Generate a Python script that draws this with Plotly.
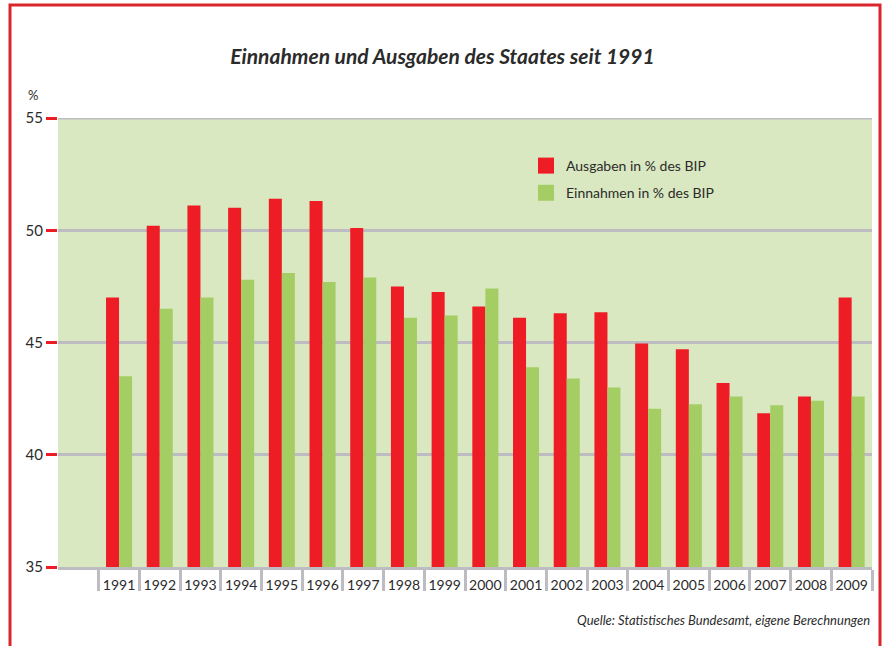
import plotly.graph_objects as go

# data (% of GDP)
years = list(range(1991, 2010))
ausgaben = [47.0, 50.2, 51.1, 51.0, 51.4, 51.3, 50.1, 47.5, 47.25, 46.6,
            46.1, 46.3, 46.35, 44.95, 44.7, 43.2, 41.85, 42.6, 47.0]
einnahmen = [43.5, 46.5, 47.0, 47.8, 48.1, 47.7, 47.9, 46.1, 46.2, 47.4,
             43.9, 43.4, 43.0, 42.05, 42.25, 42.6, 42.2, 42.4, 42.6]

RED = "#ee1c25"
GREEN = "#a4ce64"
BG = "#d9e8c0"
GRAY = "#bcbcc2"
TXT = "#2b2b2b"
FONT = "Lato"

fig = go.Figure()
fig.add_trace(go.Bar(x=years, y=ausgaben, name="Ausgaben in % des BIP",
                     marker=dict(color=RED, line=dict(width=0)), showlegend=False))
fig.add_trace(go.Bar(x=years, y=einnahmen, name="Einnahmen in % des BIP",
                     marker=dict(color=GREEN, line=dict(width=0)), showlegend=False))

# legend entries with bigger square swatches
for name, col in [("Ausgaben in % des BIP", RED), ("Einnahmen in % des BIP", GREEN)]:
    fig.add_trace(go.Scatter(x=[None], y=[None], mode="markers", name=name,
                             legendgroup=name,
                             marker=dict(symbol="square", size=18, color=col)))

# separators between the year labels
seps = [yr - 0.5 for yr in years] + [years[-1] + 0.5]

fig.update_layout(
    width=885, height=646,
    margin=dict(l=58, r=13, t=118, b=79),
    paper_bgcolor="white",
    plot_bgcolor=BG,
    barmode="group",
    bargap=0.36,
    bargroupgap=0,
    font=dict(family=FONT, color=TXT, size=13),
    title=dict(text="<b><i>Einnahmen und Ausgaben des Staates seit 1991</i></b>",
               x=0.5, xref="container", xanchor="center",
               y=1 - 57 / 646, yref="container", yanchor="middle",
               font=dict(family=FONT, size=21, color=TXT)),
    legend=dict(x=(526 - 58) / 814, y=(567 - 150) / 449, xanchor="left", yanchor="top",
                bgcolor="rgba(0,0,0,0)", font=dict(size=14, color=TXT),
                itemsizing="trace", tracegroupgap=6),
    showlegend=True,
)

fig.update_xaxes(
    range=[years[0] - 1.5, years[-1] + 0.5],
    tickmode="array", tickvals=years, ticktext=[str(y) for y in years],
    ticks="", showgrid=False, zeroline=False,
    showline=True, linecolor=GRAY, linewidth=3,
    tickfont=dict(size=14, color=TXT),
    ticklabelstandoff=3,
    minor=dict(tickmode="array", tickvals=seps, ticks="outside",
               ticklen=21, tickwidth=3, tickcolor=GRAY, showgrid=False),
)

fig.update_yaxes(
    range=[35, 55],
    tickmode="array", tickvals=[35, 40, 45, 50, 55],
    ticks="outside", ticklen=11, tickwidth=3, tickcolor=RED,
    showgrid=True, gridcolor=GRAY, gridwidth=3,
    zeroline=False, showline=False,
    tickfont=dict(size=15, color=TXT),
)

# top grid line at 55
fig.add_shape(type="line", xref="paper", yref="y", x0=0, x1=1, y0=55, y1=55,
              line=dict(color=GRAY, width=3), layer="below")

fig.add_annotation(text="%", x=(33 - 58) / 814, y=(567 - 95) / 449,
                   xref="paper", yref="paper", showarrow=False,
                   xanchor="center", yanchor="middle",
                   font=dict(size=13, color=TXT))
fig.add_annotation(text="<i>Quelle: Statistisches Bundesamt, eigene Berechnungen</i>",
                   x=1, y=(567 - 620) / 449, xref="paper", yref="paper",
                   xanchor="right", yanchor="middle", showarrow=False,
                   font=dict(size=13, color=TXT))

# red frame (open at the bottom)
x0 = (10 - 58) / 814
x1 = (880 - 58) / 814
y0 = (567 - 660) / 449
y1 = (567 - 5) / 449
fig.add_shape(type="path", xref="paper", yref="paper",
              path=f"M {x0},{y0} L {x0},{y1} L {x1},{y1} L {x1},{y0}",
              line=dict(color="#d9262c", width=3))

fig.write_html("out.html", config={"displayModeBar": False},
               post_script="document.body.style.margin='0';")
